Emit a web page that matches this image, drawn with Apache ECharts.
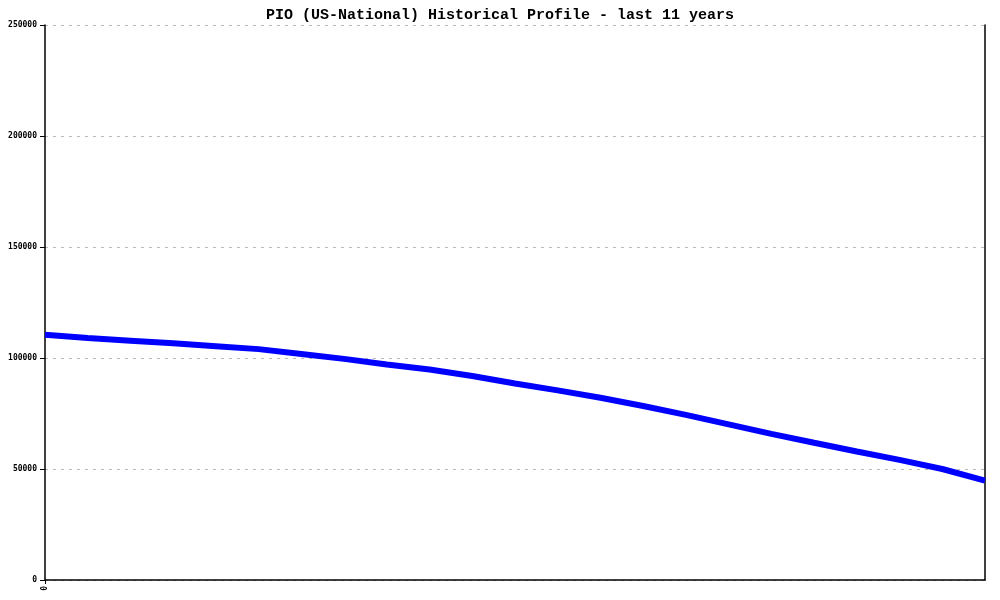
<!DOCTYPE html>
<html>
<head>
<meta charset="utf-8">
<script src="https://cdn.jsdelivr.net/npm/echarts@6/dist/echarts.min.js"></script>
<style>html,body{margin:0;padding:0;background:#fff}#c{width:1000px;height:600px}</style>
</head>
<body>
<div id="c"></div>
<script>
const titleText = "PIO (US-National) Historical Profile - last 11 years";
const categories = ["0","","","","","","","","","","","","","","","","","","","","","",""];
const values = [110500,109000,107800,106600,105300,104000,101800,99600,97100,94800,91900,88500,85400,82100,78400,74400,70100,65800,61800,57900,54100,50000,44800];
const yTicks = [0,50000,100000,150000,200000,250000];

const chart = echarts.init(document.getElementById('c'));
chart.setOption({
  animation: false,
  backgroundColor: '#fff',
  title: {
    text: titleText, left: 'center', top: 3,
    textStyle: {fontFamily: 'Liberation Mono', fontWeight: 'bold', fontSize: 15, color: '#000'}
  },
  grid: {left: 45, right: 15, top: 25, bottom: 20, containLabel: false},
  xAxis: {
    type: 'category', data: categories, boundaryGap: false,
    axisLine: {show: true, lineStyle: {color: '#000', width: 1.5}},
    axisTick: {show: true, length: 4, interval: function(i){return i===0;}, lineStyle:{color:'#000'}},
    axisLabel: {show: true, interval: 0, rotate: 90, fontSize: 8, fontFamily: 'DejaVu Sans Mono', fontWeight: 'bold', color: '#000', margin: 6},
    splitLine: {show: false}
  },
  yAxis: [{
    type: 'value', min: yTicks[0], max: yTicks[yTicks.length-1], interval: 50000,
    axisLine: {show: true, lineStyle: {color: '#000', width: 1.5}},
    axisTick: {show: true, length: 5, lineStyle: {color: '#000'}},
    axisLabel: {fontSize: 8, fontFamily: 'DejaVu Sans Mono', fontWeight: 'bold', color: '#000', margin: 8,
      formatter: function(v){return String(v);}},
    splitLine: {show: true, lineStyle: {color: '#bbb', type: [3, 5], width: 1}}
  }, {
    type: 'value', position: 'right', min: 0, max: 250000, interval: 50000,
    axisLine: {show: true, lineStyle: {color: '#000', width: 1.5}},
    axisTick: {show: false}, axisLabel: {show: false}, splitLine: {show: false}
  }],
  series: [{
    type: 'line', data: values, showSymbol: false, symbol: 'none',
    lineStyle: {color: '#0000ff', width: 6}, itemStyle: {color: '#0000ff'}
  }]
});
</script>
</body>
</html>
